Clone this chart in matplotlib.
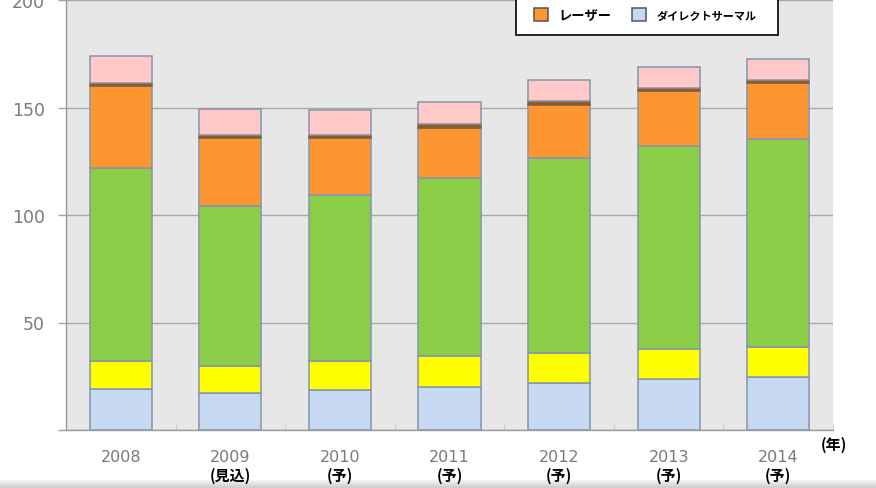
import matplotlib
matplotlib.use("Agg")
import matplotlib.pyplot as plt
from matplotlib.patches import Rectangle
from matplotlib.transforms import blended_transform_factory
import numpy as np

plt.rcParams["font.family"] = ["DejaVu Sans", "Noto Sans CJK JP"]
JP = ["Noto Sans CJK JP", "DejaVu Sans"]

years = ["2008", "2009", "2010", "2011", "2012", "2013", "2014"]
notes = ["", "(見込)", "(予)", "(予)", "(予)", "(予)", "(予)"]

# stacked segments, bottom to top
direct_thermal = [19.1, 17.0, 18.6, 20.0, 21.9, 23.7, 24.7]
yellow_seg = [13.0, 12.8, 13.4, 14.4, 13.9, 14.0, 13.9]
green_seg = [89.9, 74.4, 77.3, 82.8, 90.7, 94.3, 96.7]
laser = [38.1, 31.6, 26.6, 23.4, 24.8, 25.8, 26.2]
brown_seg = [1.5, 1.5, 1.5, 1.5, 1.5, 1.5, 1.5]
pink_seg = [12.4, 12.2, 11.4, 10.5, 10.0, 9.5, 9.5]

series = [
    (direct_thermal, "#c6d8f2", "#8595ad"),
    (yellow_seg, "#ffff00", "#8595ad"),
    (green_seg, "#8ccd48", "#8595ad"),
    (laser, "#fd9530", "#8595ad"),
    (brown_seg, "#8c5c2c", "#8c5c2c"),
    (pink_seg, "#ffc9c9", "#8595ad"),
]

W, H = 876, 489
fig = plt.figure(figsize=(W / 100, H / 100), dpi=100)
fig.patch.set_facecolor("white")
ax = fig.add_axes([66 / W, 58 / H, (833 - 66) / W, 430 / H])
ax.set_facecolor("#e7e7e7")

x = np.arange(len(years))
bottom = np.zeros(len(years))
conts = []
for vals, col, edge in series:
    c = ax.bar(x, vals, 0.566, bottom=bottom, color=col, edgecolor=edge,
               linewidth=1.1, zorder=3)
    conts.append(c)
    bottom += np.array(vals)

ax.set_xlim(-0.5, 6.5)
ax.set_ylim(0, 200)
ax.set_yticks([0, 50, 100, 150, 200])
ax.set_yticklabels(["", "50", "100", "150", "200"])
ax.yaxis.grid(True, color="#a8a8a8", linewidth=1.0, zorder=1)
ax.tick_params(axis="y", length=6, width=1, color="#a0a0a0", pad=9,
               labelsize=12.5, labelcolor="#7a7a7a")
ax.set_xticks(x)
ax.set_xticklabels(years)
ax.tick_params(axis="x", length=0, pad=14, labelsize=11.5, labelcolor="#7a7a7a")
ax.set_xticks(np.arange(-0.5, 7, 1), minor=True)
ax.tick_params(axis="x", which="minor", direction="in", length=4, color="#c8c8c8")
for s in ["top", "right"]:
    ax.spines[s].set_visible(False)
for s in ["left", "bottom"]:
    ax.spines[s].set_color("#9a9a9a")
    ax.spines[s].set_linewidth(1.0)

tr = blended_transform_factory(ax.transData, fig.transFigure)
for xi, n in zip(x, notes):
    if n:
        ax.text(xi, 1 - 476 / H, n, transform=tr, ha="center", va="center",
                fontsize=10.8, fontweight="bold", family=JP, color="black")
fig.text(834 / W, 1 - 445 / H, "(年)", ha="center", va="center",
         fontsize=10.8, fontweight="bold", family=JP, color="black")

# legend box (only the bottom row is within the picture)
fig.add_artist(Rectangle((516 / W, 1 - 36 / H), (778 - 516) / W, 40 / H,
                         transform=fig.transFigure, facecolor="white",
                         edgecolor="black", linewidth=1.2, zorder=4, clip_on=False))
leg = fig.legend([conts[3], conts[0]], ["レーザー", "ダイレクトサーマル"],
                 loc="center left", bbox_to_anchor=(522 / W, 1 - 16 / H), ncol=2,
                 frameon=False, handlelength=1.05, handleheight=1.05,
                 handletextpad=0.8, columnspacing=1.6,
                 prop={"family": JP, "weight": "bold", "size": 9.5})
leg.set_zorder(5)
leg.get_texts()[1].set_fontsize(8)
for h in leg.legend_handles:
    h.set_edgecolor("#555555")

# faint shadow strip along the bottom edge, kept under the texts
for i, c in enumerate(["#f2f2f2", "#e6e6e6", "#dadada", "#d0d0d0"]):
    fig.add_artist(Rectangle((0, 0), 1, (8 - 2 * i) / H, transform=fig.transFigure,
                             facecolor=c, edgecolor="none", zorder=-1))

fig.savefig("out.png", dpi=100)
